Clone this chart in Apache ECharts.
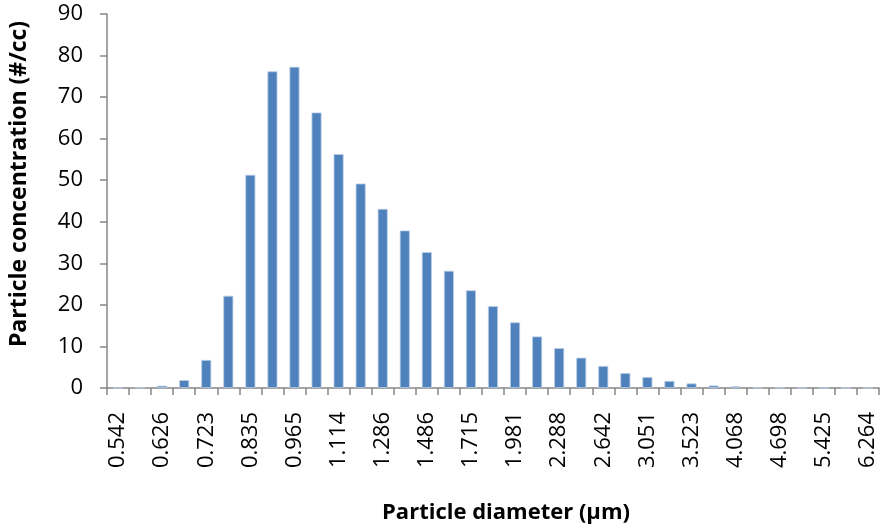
<!DOCTYPE html>
<html>
<head>
<meta charset="utf-8">
<script src="https://cdn.jsdelivr.net/npm/echarts@6/dist/echarts.min.js"></script>
<style>html,body{margin:0;padding:0;background:#fff}#c{width:891px;height:529px}</style>
</head>
<body>
<div id="c"></div>
<script>
var diameters = ['0.542','0.583','0.626','0.673','0.723','0.777','0.835','0.898','0.965','1.037','1.114','1.197','1.286','1.382','1.486','1.596','1.715','1.843','1.981','2.129','2.288','2.458','2.642','2.839','3.051','3.278','3.523','3.786','4.068','4.371','4.698','5.048','5.425','5.829','6.264'];
var concentration = [0.02,0.1,0.55,1.9,6.75,22.2,51.3,76.2,77.3,66.3,56.3,49.2,43.1,37.9,32.7,28.2,23.5,19.7,15.8,12.4,9.6,7.3,5.3,3.6,2.65,1.7,1.1,0.6,0.4,0.12,0.06,0.03,0.02,0.01,0.01];
var yTicks = {min:0, max:90, interval:10};

var chart = echarts.init(document.getElementById('c'));
var axisFont = 'Open Sans, Lato, sans-serif';
chart.setOption({
  animation:false,
  backgroundColor:'#fff',
  grid:{left:107, right:12, top:14, bottom:139, containLabel:false},
  xAxis:{
    type:'category',
    data:diameters,
    name:'Particle diameter (\u03bcm)',
    nameLocation:'middle',
    nameGap:114,
    nameTextStyle:{fontFamily:axisFont,fontWeight:'bold',fontSize:22,color:'#000',padding:[0,0,0,26]},
    axisLine:{lineStyle:{color:'#868686',width:1.5}},
    axisTick:{show:true,interval:0,length:7,lineStyle:{color:'#868686',width:1.5}},
    axisLabel:{interval:1,rotate:90,margin:24,fontFamily:axisFont,fontSize:22,color:'#000'}
  },
  yAxis:{
    type:'value',
    min:yTicks.min, max:yTicks.max, interval:yTicks.interval,
    name:'Particle concentration (#/cc)',
    nameLocation:'middle',
    nameGap:76,
    nameRotate:90,
    nameTextStyle:{fontFamily:axisFont,fontWeight:'bold',fontSize:23,color:'#000',padding:[0,0,0,34]},
    axisLine:{show:true,lineStyle:{color:'#868686',width:1.5}},
    axisTick:{show:true,length:7,lineStyle:{color:'#868686',width:1.5}},
    splitLine:{show:false},
    axisLabel:{margin:24,fontFamily:axisFont,fontSize:22,color:'#000'}
  },
  series:[{
    type:'bar',
    data:concentration,
    barWidth:10,
    itemStyle:{color:'#4F81BD',borderColor:'#b9cde5',borderWidth:0.8}
  }]
});
</script>
</body>
</html>
